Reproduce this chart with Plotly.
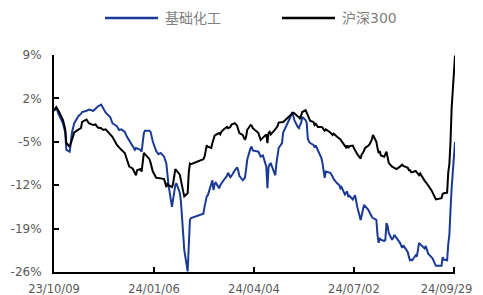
import plotly.graph_objects as go

dates = [
    "2023-10-09","2023-10-11","2023-10-13","2023-10-17","2023-10-19","2023-10-20","2023-10-23","2023-10-25",
    "2023-10-27","2023-10-31","2023-11-02","2023-11-03","2023-11-07","2023-11-09","2023-11-13","2023-11-15",
    "2023-11-17","2023-11-20","2023-11-22","2023-11-24","2023-11-28","2023-11-30","2023-12-04","2023-12-06",
    "2023-12-08","2023-12-11","2023-12-13","2023-12-15","2023-12-18","2023-12-20","2023-12-21","2023-12-22",
    "2023-12-25","2023-12-26","2023-12-28","2023-12-29","2024-01-02","2024-01-03","2024-01-05","2024-01-08",
    "2024-01-10","2024-01-12","2024-01-15","2024-01-17","2024-01-18","2024-01-19","2024-01-22","2024-01-23",
    "2024-01-24","2024-01-25","2024-01-26","2024-01-29","2024-01-30","2024-01-31","2024-02-01","2024-02-02",
    "2024-02-05","2024-02-06","2024-02-07","2024-02-08","2024-02-19","2024-02-20","2024-02-21","2024-02-22",
    "2024-02-23","2024-02-26","2024-02-27","2024-02-28","2024-02-29","2024-03-01","2024-03-04","2024-03-05",
    "2024-03-06","2024-03-08","2024-03-11","2024-03-12","2024-03-14","2024-03-15","2024-03-18","2024-03-20",
    "2024-03-21","2024-03-22","2024-03-25","2024-03-27","2024-03-28","2024-03-29","2024-04-01","2024-04-02",
    "2024-04-03","2024-04-08","2024-04-10","2024-04-12","2024-04-15","2024-04-16","2024-04-17","2024-04-18",
    "2024-04-19","2024-04-22","2024-04-23","2024-04-24","2024-04-25","2024-04-26","2024-04-29","2024-04-30",
    "2024-05-06","2024-05-07","2024-05-08","2024-05-09","2024-05-10","2024-05-13","2024-05-14","2024-05-15",
    "2024-05-16","2024-05-17","2024-05-20","2024-05-21","2024-05-22","2024-05-23","2024-05-24","2024-05-27",
    "2024-05-28","2024-05-29","2024-05-31","2024-06-03","2024-06-04","2024-06-05","2024-06-06","2024-06-07",
    "2024-06-11","2024-06-13","2024-06-14","2024-06-17","2024-06-19","2024-06-20","2024-06-21","2024-06-24",
    "2024-06-25","2024-06-26","2024-06-27","2024-06-28","2024-07-01","2024-07-02","2024-07-03","2024-07-04",
    "2024-07-05","2024-07-08","2024-07-09","2024-07-10","2024-07-11","2024-07-12","2024-07-15","2024-07-16",
    "2024-07-17","2024-07-18","2024-07-19","2024-07-22","2024-07-23","2024-07-24","2024-07-25","2024-07-26",
    "2024-07-29","2024-07-30","2024-07-31","2024-08-01","2024-08-02","2024-08-05","2024-08-06","2024-08-07",
    "2024-08-08","2024-08-09","2024-08-12","2024-08-13","2024-08-14","2024-08-15","2024-08-16","2024-08-19",
    "2024-08-20","2024-08-21","2024-08-22","2024-08-23","2024-08-26","2024-08-27","2024-08-28","2024-08-29",
    "2024-08-30","2024-09-02","2024-09-03","2024-09-04","2024-09-05","2024-09-06","2024-09-09","2024-09-10",
    "2024-09-11","2024-09-12","2024-09-13","2024-09-18","2024-09-19","2024-09-20","2024-09-23","2024-09-24",
    "2024-09-25","2024-09-26","2024-09-27","2024-09-30",
]

chem = [
    0.0, 0.5, -0.5, -2.0, -3.5, -6.3, -6.6, -3.5,
    -2.0, -0.8, -0.5, -0.2, 0.0, 0.2, 0.0, 0.4,
    0.7, 1.0, 0.3, -0.3, -1.0, -2.0, -2.5, -3.1,
    -3.0, -3.4, -4.2, -4.8, -5.8, -6.3, -6.0, -6.1,
    -6.3, -6.6, -3.6, -3.2, -3.2, -3.4, -5.0, -6.5,
    -7.0, -6.8, -7.4, -8.5, -11.0, -12.0, -15.5, -14.2,
    -12.8, -12.0, -11.7, -13.2, -14.6, -17.0, -19.2, -22.5,
    -25.9, -21.5, -17.6, -17.3, -16.6, -15.5, -14.5, -13.8,
    -13.6, -11.5, -11.2, -12.8, -11.8, -11.6, -12.5, -12.0,
    -11.7, -11.2, -10.5, -10.0, -10.7, -10.5, -9.6, -9.1,
    -9.6, -10.5, -11.2, -10.8, -9.5, -7.9, -6.0, -5.8,
    -6.4, -6.6, -7.4, -7.2, -9.0, -12.5, -9.1, -8.6,
    -8.5, -9.9, -10.4, -8.5, -7.4, -6.0, -5.2, -3.5,
    -1.2, -0.6, -0.2, -0.8, -1.5, -2.6, -2.8, -2.3,
    -2.0, -1.0, -1.5, -2.0, -4.5, -5.0, -5.2, -5.5,
    -5.9, -5.6, -6.5, -7.6, -8.4, -9.6, -10.8, -9.8,
    -10.0, -10.6, -11.0, -11.7, -12.0, -12.5, -12.3, -13.5,
    -13.3, -13.0, -13.9, -13.7, -14.3, -14.0, -13.6, -14.5,
    -15.5, -17.6, -16.5, -16.0, -15.2, -15.4, -16.0, -16.4,
    -16.8, -17.1, -17.3, -17.6, -20.0, -21.3, -20.5, -20.8,
    -21.0, -20.8, -18.1, -18.6, -19.7, -20.8, -20.5, -20.0,
    -20.3, -20.5, -21.3, -21.8, -22.1, -21.7, -22.0, -22.8,
    -23.6, -24.1, -24.0, -24.1, -23.3, -23.5, -22.5, -21.3,
    -21.5, -22.0, -22.2, -21.8, -22.5, -23.0, -23.6, -23.8,
    -24.2, -24.5, -25.0, -25.0, -23.6, -24.0, -24.1, -21.5,
    -20.0, -16.0, -12.5, -5.0,
]

csi300 = [
    0.0, 0.6, 0.0, -1.5, -3.0, -5.2, -5.8, -4.5,
    -3.5, -3.0, -2.8, -1.8, -1.4, -2.0, -2.3, -2.2,
    -2.7, -2.8, -3.1, -3.0, -3.8, -4.2, -5.5, -6.0,
    -6.3, -6.8, -8.0, -9.0, -9.3, -9.9, -10.4, -9.6,
    -9.4, -9.8, -6.8, -7.0, -7.8, -8.4, -9.8, -10.8,
    -10.9, -10.9, -11.0, -12.3, -11.8, -12.0, -12.3, -11.8,
    -10.6, -9.4, -9.6, -10.3, -11.2, -12.5, -13.0, -13.8,
    -13.3, -9.9, -8.5, -8.6, -7.8, -7.4, -6.3, -5.6,
    -5.8, -6.0, -5.2, -4.4, -4.0, -3.9, -3.6, -3.8,
    -3.4, -3.0, -2.6, -2.8, -2.6, -2.2, -2.0, -2.4,
    -3.1, -3.6, -3.9, -4.7, -4.2, -3.1, -2.3, -2.4,
    -2.8, -3.6, -4.7, -4.4, -3.8, -5.2, -3.6, -3.4,
    -3.8, -3.2, -3.0, -2.8, -2.5, -1.9, -1.8, -1.8,
    -0.8, -0.7, -0.5, -0.3, -0.4, -0.9, -1.0, -1.3,
    -0.6, -0.2, 0.1, -0.3, -0.7, -1.2, -1.6, -1.8,
    -2.3, -2.1, -2.6, -2.6, -2.7, -3.0, -3.2, -3.0,
    -3.5, -3.9, -3.7, -4.2, -4.4, -4.6, -4.9, -5.8,
    -5.9, -5.6, -6.0, -5.7, -5.6, -6.0, -6.4, -6.8,
    -7.0, -7.7, -7.0, -6.8, -6.2, -6.0, -5.6, -5.4,
    -5.0, -4.6, -3.9, -5.0, -6.0, -6.8, -6.5, -7.2,
    -7.4, -7.0, -6.6, -7.5, -8.4, -9.0, -9.1, -9.2,
    -9.3, -9.4, -9.0, -8.8, -8.7, -8.9, -9.0, -9.2,
    -9.6, -9.6, -9.9, -9.9, -9.7, -10.0, -10.2, -10.4,
    -10.1, -11.2, -11.3, -11.5, -11.7, -12.0, -12.8, -13.2,
    -13.5, -13.8, -14.3, -14.1, -13.4, -13.3, -13.2, -9.9,
    -8.6, -5.0, 0.4, 8.9,
]

series_names = ["基础化工", "沪深300"]
series_colors = ["#1B3A96", "#000000"]

y_ticks = [9, 2, -5, -12, -19, -26]
y_tick_labels = ["9%", "2%", "-5%", "-12%", "-19%", "-26%"]
x_ticks = ["2023-10-09", "2024-01-06", "2024-04-04", "2024-07-02", "2024-09-29"]
x_tick_labels = ["23/10/09", "24/01/06", "24/04/04", "24/07/02", "24/09/29"]

# the last label sits at the window edge: pad it on the right so it stays visible
x_tick_text = x_tick_labels[:-1] + [x_tick_labels[-1] + "\u00a0\u00a0\u00a0\u00a0"]

fig = go.Figure()
for name, vals, col in zip(series_names, [chem, csi300], series_colors):
    fig.add_trace(go.Scatter(x=dates, y=vals, mode="lines", name=name,
                             line=dict(color=col, width=2), showlegend=False,
                             cliponaxis=False))

y_font = dict(family="DejaVu Sans", size=12, color="#595959")
x_font = dict(family="DejaVu Sans", size=11.5, color="#595959")

# page body has an 8px margin: figure is offset by (8, 8) in the window
fig.update_layout(
    width=475, height=287,
    margin=dict(l=46, r=28, t=47, b=23),
    paper_bgcolor="white", plot_bgcolor="white",
    xaxis=dict(
        type="date", range=["2023-10-09", "2024-09-30"],
        tickmode="array", tickvals=x_ticks, ticktext=x_tick_text,
        showgrid=False, zeroline=False, automargin=False,
        showline=True, linecolor="#000000", linewidth=2,
        ticks="inside", ticklen=5, tickwidth=1.5, tickcolor="#000000",
        tickfont=x_font, ticklabelstandoff=5, ticklabeloverflow="allow",
    ),
    yaxis=dict(
        range=[-26, 9], tickmode="array", tickvals=y_ticks, ticktext=y_tick_labels,
        showgrid=False, zeroline=False, automargin=False,
        showline=True, linecolor="#000000", linewidth=2,
        ticks="inside", ticklen=5, tickwidth=1.5, tickcolor="#000000",
        tickfont=y_font, ticklabelstandoff=8,
    ),
)

# legend drawn manually (longer line samples than plotly's built-in legend)
legend_items = [(105, 158, 163), (282, 335, 340)]
for (x0, x1, xt), name, col in zip(legend_items, series_names, series_colors):
    fig.add_shape(type="line", xref="paper", yref="paper",
                  x0=(x0 - 54) / 401, x1=(x1 - 54) / 401,
                  y0=(272 - 18) / 217, y1=(272 - 18) / 217,
                  line=dict(color=col, width=2.5))
    fig.add_annotation(text=name, xref="paper", yref="paper",
                       x=(xt - 54) / 401, y=(272 - 18) / 217,
                       xanchor="left", yanchor="middle", showarrow=False,
                       font=dict(family="DejaVu Sans, Noto Sans CJK SC", size=14, color="#7F7F7F"))

fig.write_html("out.html")
